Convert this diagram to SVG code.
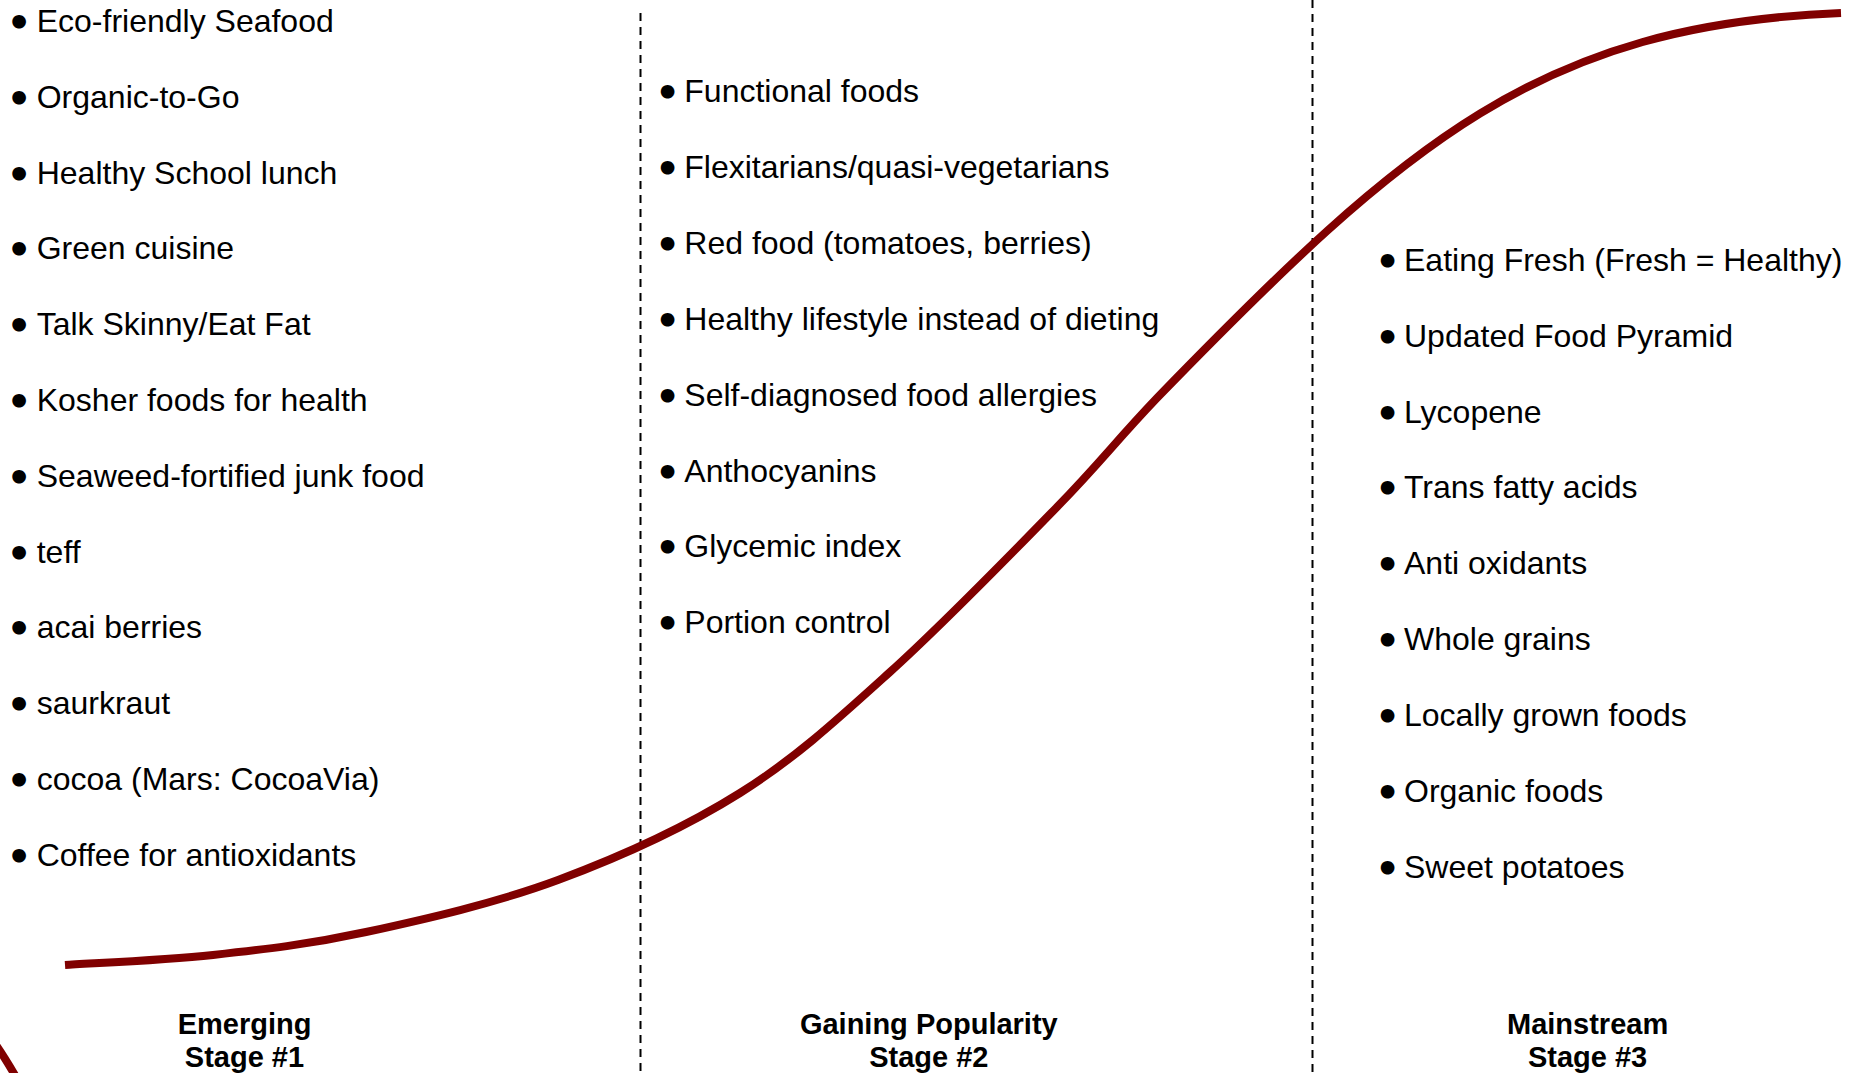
<svg xmlns="http://www.w3.org/2000/svg" width="1860" height="1073" viewBox="0 0 1860 1073">
<style>
.t{font-family:"Liberation Sans",Arial,sans-serif;font-size:32px;fill:#000}
.b{font-family:"Liberation Sans",Arial,sans-serif;font-size:32px;fill:#000;stroke:#000;stroke-width:5;stroke-linejoin:round;text-anchor:middle}
.s{font-family:"Liberation Sans",Arial,sans-serif;font-size:29px;font-weight:bold;fill:#000;text-anchor:middle}
.dash{stroke:#000;stroke-width:2;stroke-dasharray:8 6;fill:none}
.curve{stroke:#800000;stroke-width:8;fill:none;stroke-linecap:butt}
</style>
<rect width="1860" height="1073" fill="#fff"/>
<g id="connectors">
<line class="dash" x1="640.5" y1="13" x2="640.5" y2="1073"/>
<line class="dash" x1="1312.5" y1="0" x2="1312.5" y2="1073"/>
<path class="curve" d="M65,965 C89.7,963.3 162.8,960.5 213,955 C263.2,949.5 308.5,944.5 366,932 C423.5,919.5 495.7,903.2 558,880 C620.3,856.8 684.7,827.7 740,793 C795.3,758.3 837.2,719.7 890,672 C942.8,624.3 1012.5,552.7 1057,507 C1101.5,461.3 1114.3,442.8 1157,398 C1407,140.5 1541,25 1841,13"/>
<path class="curve" d="M-4,1045 Q5,1058 16,1077"/>
</g>
<g id="stage1">
<text class="b" x="19.2" y="32">•</text><text class="t" x="36.7" y="32">Eco-friendly Seafood</text>
<text class="b" x="19.2" y="107.8">•</text><text class="t" x="36.7" y="107.8">Organic-to-Go</text>
<text class="b" x="19.2" y="183.6">•</text><text class="t" x="36.7" y="183.6">Healthy School lunch</text>
<text class="b" x="19.2" y="259.4">•</text><text class="t" x="36.7" y="259.4">Green cuisine</text>
<text class="b" x="19.2" y="335.2">•</text><text class="t" x="36.7" y="335.2">Talk Skinny/Eat Fat</text>
<text class="b" x="19.2" y="411">•</text><text class="t" x="36.7" y="411">Kosher foods for health</text>
<text class="b" x="19.2" y="486.8">•</text><text class="t" x="36.7" y="486.8">Seaweed-fortified junk food</text>
<text class="b" x="19.2" y="562.6">•</text><text class="t" x="36.7" y="562.6">teff</text>
<text class="b" x="19.2" y="638.4">•</text><text class="t" x="36.7" y="638.4">acai berries</text>
<text class="b" x="19.2" y="714.2">•</text><text class="t" x="36.7" y="714.2">saurkraut</text>
<text class="b" x="19.2" y="790">•</text><text class="t" x="36.7" y="790">cocoa (Mars: CocoaVia)</text>
<text class="b" x="19.2" y="865.8">•</text><text class="t" x="36.7" y="865.8">Coffee for antioxidants</text>
</g>
<g id="stage2">
<text class="b" x="667.5" y="102">•</text><text class="t" x="684.3" y="102">Functional foods</text>
<text class="b" x="667.5" y="177.9">•</text><text class="t" x="684.3" y="177.9">Flexitarians/quasi-vegetarians</text>
<text class="b" x="667.5" y="253.8">•</text><text class="t" x="684.3" y="253.8">Red food (tomatoes, berries)</text>
<text class="b" x="667.5" y="329.7">•</text><text class="t" x="684.3" y="329.7">Healthy lifestyle instead of dieting</text>
<text class="b" x="667.5" y="405.6">•</text><text class="t" x="684.3" y="405.6">Self-diagnosed food allergies</text>
<text class="b" x="667.5" y="481.5">•</text><text class="t" x="684.3" y="481.5">Anthocyanins</text>
<text class="b" x="667.5" y="557.4">•</text><text class="t" x="684.3" y="557.4">Glycemic index</text>
<text class="b" x="667.5" y="633.3">•</text><text class="t" x="684.3" y="633.3">Portion control</text>
</g>
<g id="stage3">
<text class="b" x="1387.5" y="270.7">•</text><text class="t" x="1404" y="270.7">Eating Fresh (Fresh = Healthy)</text>
<text class="b" x="1387.5" y="346.6">•</text><text class="t" x="1404" y="346.6">Updated Food Pyramid</text>
<text class="b" x="1387.5" y="422.5">•</text><text class="t" x="1404" y="422.5">Lycopene</text>
<text class="b" x="1387.5" y="498.4">•</text><text class="t" x="1404" y="498.4">Trans fatty acids</text>
<text class="b" x="1387.5" y="574.3">•</text><text class="t" x="1404" y="574.3">Anti oxidants</text>
<text class="b" x="1387.5" y="650.2">•</text><text class="t" x="1404" y="650.2">Whole grains</text>
<text class="b" x="1387.5" y="726.1">•</text><text class="t" x="1404" y="726.1">Locally grown foods</text>
<text class="b" x="1387.5" y="802">•</text><text class="t" x="1404" y="802">Organic foods</text>
<text class="b" x="1387.5" y="877.9">•</text><text class="t" x="1404" y="877.9">Sweet potatoes</text>
</g>
<g id="label1"><text class="s" x="244.5" y="1034">Emerging</text><text class="s" x="244.5" y="1067">Stage #1</text></g>
<g id="label2"><text class="s" x="928.8" y="1034">Gaining Popularity</text><text class="s" x="928.8" y="1067">Stage #2</text></g>
<g id="label3"><text class="s" x="1587.6" y="1034">Mainstream</text><text class="s" x="1587.6" y="1067">Stage #3</text></g>
</svg>
